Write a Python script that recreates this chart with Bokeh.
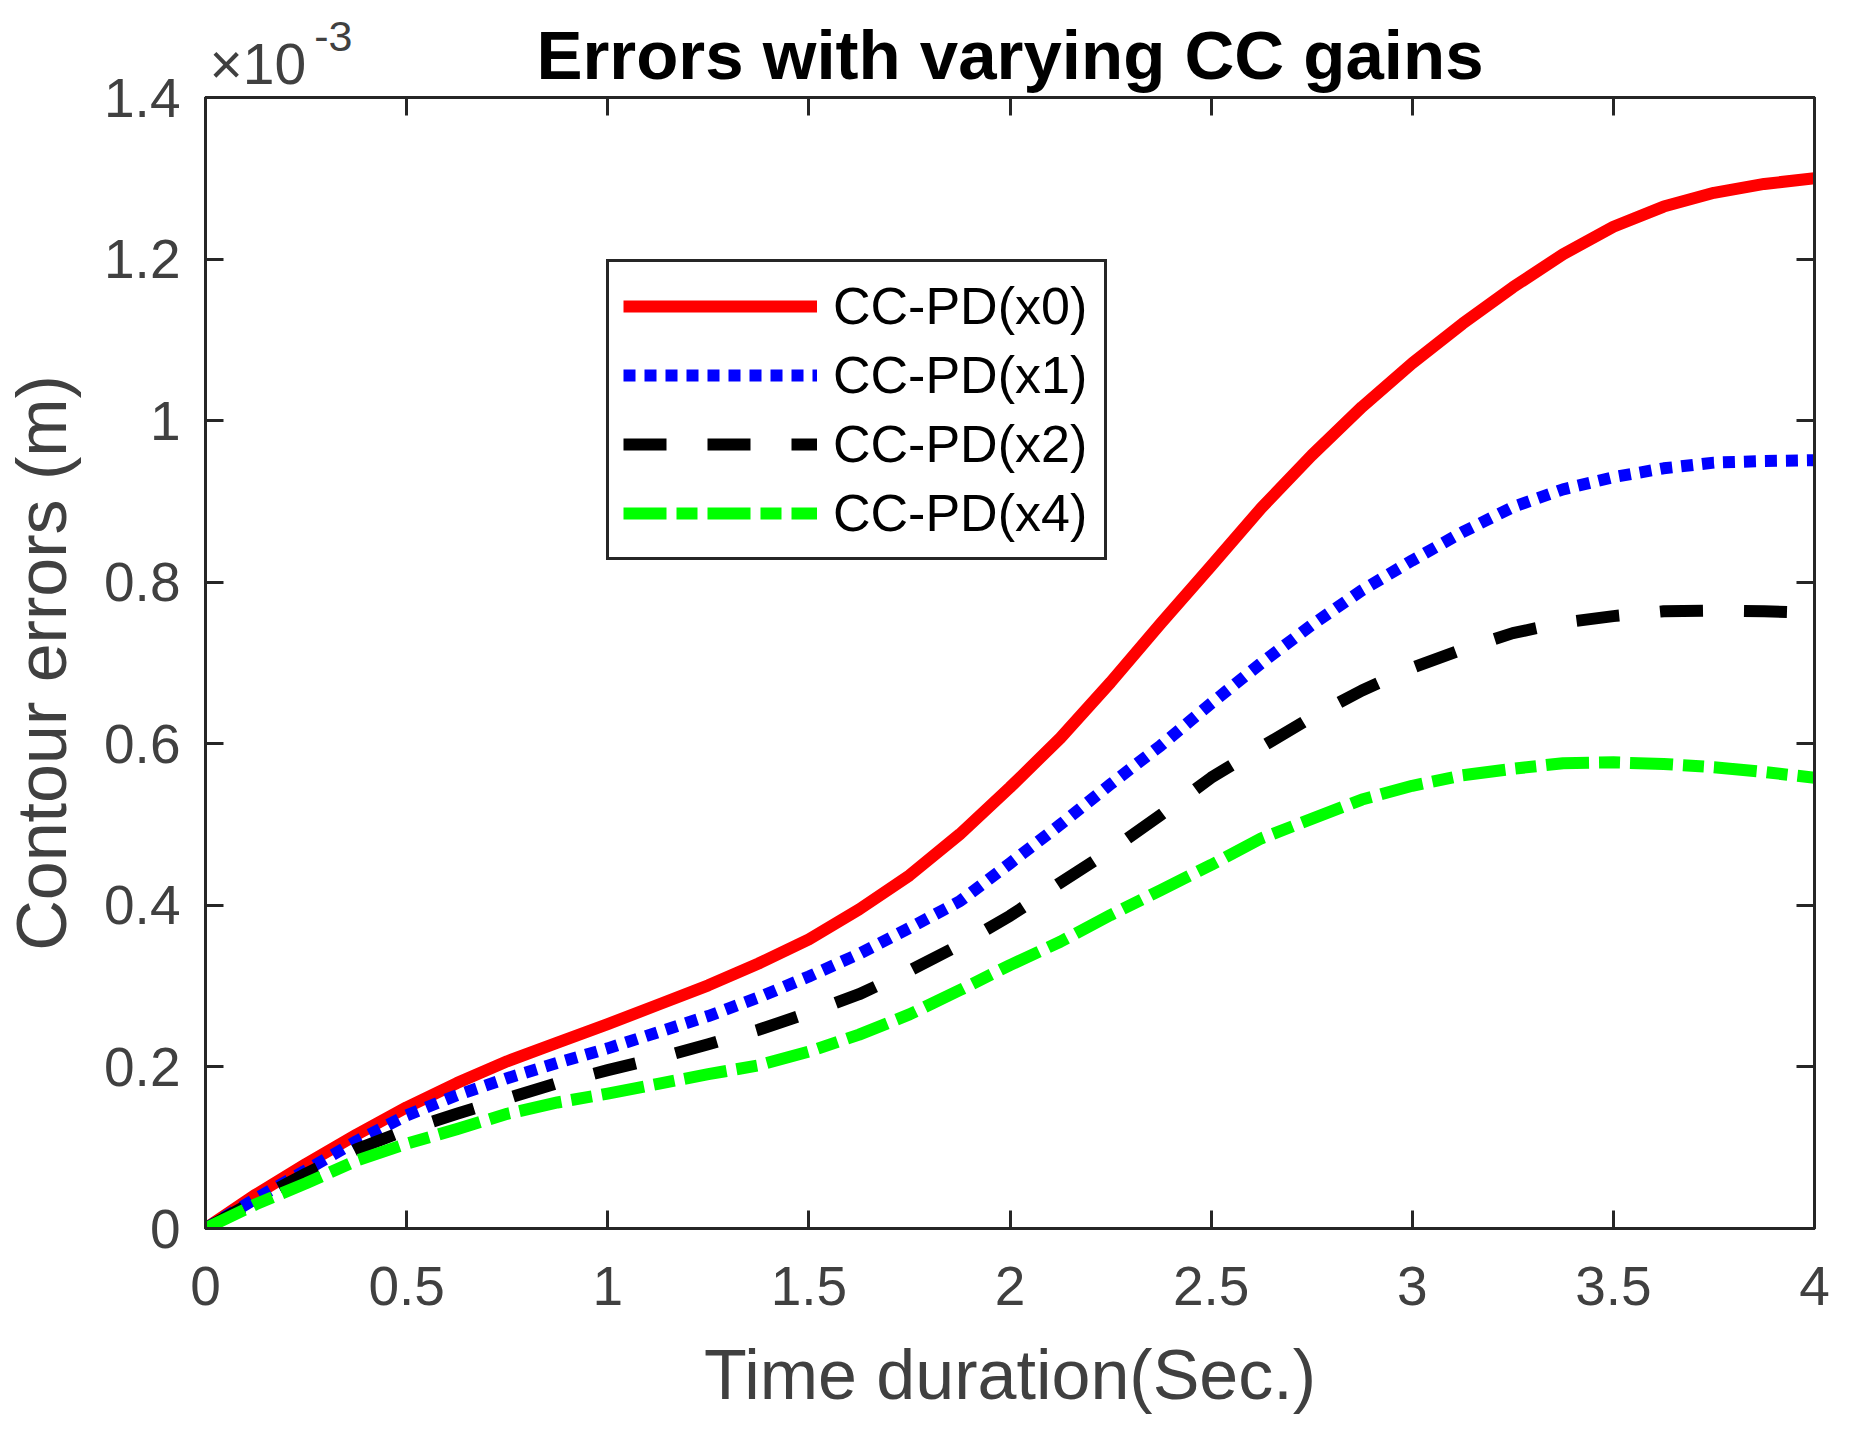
from bokeh.plotting import figure
from bokeh.models import LinearAxis, FixedTicker, Legend, LegendItem, Range1d
from bokeh.embed import file_html
from bokeh.resources import INLINE

# ---- data (contour errors in units of 1e-3 m) ----
t = [0, 0.125, 0.25, 0.375, 0.5, 0.625, 0.75, 0.875, 1.0, 1.125, 1.25, 1.375, 1.5, 1.625, 1.75, 1.875,
     2.0, 2.125, 2.25, 2.375, 2.5, 2.625, 2.75, 2.875, 3.0, 3.125, 3.25, 3.375, 3.5, 3.625, 3.75, 3.875, 4.0]
err_x0 = [0, 0.042, 0.080, 0.116, 0.150, 0.180, 0.207, 0.230, 0.253, 0.277, 0.301, 0.328, 0.358, 0.395, 0.437, 0.488,
          0.546, 0.607, 0.676, 0.749, 0.820, 0.892, 0.957, 1.017, 1.071, 1.120, 1.165, 1.206, 1.240, 1.265, 1.282, 1.293, 1.300]
err_x1 = [0, 0.037, 0.072, 0.108, 0.140, 0.165, 0.186, 0.205, 0.223, 0.243, 0.263, 0.286, 0.312, 0.340, 0.372, 0.405,
          0.452, 0.500, 0.550, 0.598, 0.650, 0.700, 0.747, 0.790, 0.827, 0.862, 0.893, 0.915, 0.930, 0.941, 0.948, 0.950, 0.951]
err_x2 = [0, 0.035, 0.068, 0.098, 0.122, 0.142, 0.161, 0.180, 0.196, 0.211, 0.228, 0.246, 0.267, 0.290, 0.319, 0.351,
          0.387, 0.428, 0.468, 0.512, 0.558, 0.596, 0.633, 0.666, 0.694, 0.717, 0.737, 0.750, 0.758, 0.764, 0.765, 0.764, 0.762]
err_x4 = [0, 0.030, 0.056, 0.084, 0.105, 0.123, 0.142, 0.156, 0.167, 0.179, 0.191, 0.202, 0.219, 0.240, 0.265, 0.295,
          0.326, 0.355, 0.388, 0.419, 0.450, 0.483, 0.507, 0.531, 0.548, 0.561, 0.569, 0.576, 0.577, 0.575, 0.571, 0.565, 0.558]

title_text = "Errors with varying CC gains"
exp_base = "\u00d710"
exp_power = "-3"
labels = ["CC-PD(x0)", "CC-PD(x1)", "CC-PD(x2)", "CC-PD(x4)"]
colors = ["#FF0000", "#0000FF", "#000000", "#00FF00"]
dashes = ["solid", "12 9", "43 41", "43 10 21 10"]

x_ticks = [0, 0.5, 1, 1.5, 2, 2.5, 3, 3.5, 4]
x_tick_labels = ["0", "0.5", "1", "1.5", "2", "2.5", "3", "3.5", "4"]
y_ticks = [0, 0.2, 0.4, 0.6, 0.8, 1.0, 1.2, 1.4]
y_tick_labels = ["0", "0.2", "0.4", "0.6", "0.8", "1", "1.2", "1.4"]

FONT = "Liberation Sans"
AX = "#262626"
TXT = "#404040"

p = figure(frame_width=1609, frame_height=1131,
           min_border_left=198, min_border_top=97, min_border_right=32, min_border_bottom=180,
           x_range=Range1d(0, 4), y_range=Range1d(0, 1.4),
           output_backend="svg", toolbar_location=None)
p.background_fill_color = "white"
p.border_fill_color = "white"
p.xgrid.visible = False
p.ygrid.visible = False
p.outline_line_color = AX
p.outline_line_width = 3

def style_axis(ax, show_labels):
    ax.axis_line_color = AX
    ax.axis_line_width = 3
    ax.major_tick_line_color = AX
    ax.major_tick_line_width = 3
    ax.major_tick_in = 18
    ax.major_tick_out = 0
    ax.minor_tick_line_color = None
    ax.major_label_text_font = FONT
    ax.major_label_text_font_size = "55px"
    ax.major_label_text_color = TXT
    ax.axis_label_text_font = FONT
    ax.axis_label_text_font_size = "70px"
    ax.axis_label_text_font_style = "normal"
    ax.axis_label_text_color = TXT
    if not show_labels:
        ax.major_label_text_font_size = "1px"
        ax.major_label_standoff = 0

def text_only_axis(ax):
    ax.axis_line_color = None
    ax.major_tick_line_color = None
    ax.minor_tick_line_color = None
    ax.major_tick_in = 0
    ax.major_tick_out = 0
    ax.minor_tick_in = 0
    ax.minor_tick_out = 0
    ax.major_label_text_font = FONT
    ax.major_label_text_color = TXT

xb = p.xaxis[0]
yl = p.yaxis[0]
xb.ticker = FixedTicker(ticks=x_ticks)
yl.ticker = FixedTicker(ticks=y_ticks)
xb.major_label_overrides = {v: s for v, s in zip(x_ticks, x_tick_labels)}
yl.major_label_overrides = {v: s for v, s in zip(y_ticks, y_tick_labels)}
style_axis(xb, True)
style_axis(yl, True)
xb.axis_label = "Time duration(Sec.)"
yl.axis_label = "Contour errors (m)"
xb.major_label_standoff = 38
xb.axis_label_standoff = 28
yl.major_label_standoff = 25
yl.axis_label_standoff = 20

# top edge: ticks only
xa = LinearAxis(ticker=FixedTicker(ticks=x_ticks))
style_axis(xa, False)
xa.major_label_overrides = {v: "" for v in x_ticks}
p.add_layout(xa, "above")

# exponent power "-3" (superscript)
POW_X = 0.318
xpow = LinearAxis(ticker=FixedTicker(ticks=[POW_X]))
text_only_axis(xpow)
xpow.major_label_overrides = {POW_X: exp_power}
xpow.major_label_text_font_size = "43px"
xpow.major_label_standoff = 47
p.add_layout(xpow, "above")

# exponent base "x10" and the chart title on the same row
BASE_X = 0.130
xexp = LinearAxis(ticker=FixedTicker(ticks=[BASE_X]))
text_only_axis(xexp)
xexp.major_label_overrides = {BASE_X: exp_base}
xexp.major_label_text_font_size = "57px"
xexp.major_label_standoff = -77
xexp.axis_label = title_text
xexp.axis_label_text_font = FONT
xexp.axis_label_text_font_size = "69px"
xexp.axis_label_text_font_style = "bold"
xexp.axis_label_text_color = "#000000"
xexp.axis_label_standoff = -65
p.add_layout(xexp, "above")

yr = LinearAxis(ticker=FixedTicker(ticks=y_ticks))
style_axis(yr, False)
yr.major_label_overrides = {v: "" for v in y_ticks}
p.add_layout(yr, "right")

series = [err_x0, err_x1, err_x2, err_x4]
items = []
for lab, col, dash, ys in zip(labels, colors, dashes, series):
    r = p.line(t, ys, line_color=col, line_width=12, line_dash=dash, line_cap="butt", line_join="round")
    items.append(LegendItem(label=lab, renderers=[r]))

legend = Legend(items=items, location=(401, 668), orientation="vertical")
legend.border_line_color = AX
legend.border_line_width = 3
legend.border_line_alpha = 1
legend.background_fill_color = "white"
legend.background_fill_alpha = 1
legend.label_text_font = FONT
legend.label_text_font_size = "52px"
legend.label_text_color = "#000000"
legend.glyph_width = 194
legend.glyph_height = 60
legend.label_height = 60
legend.label_width = 257
legend.label_standoff = 16
legend.padding = 14
legend.spacing = 9
legend.margin = 0
p.add_layout(legend, "center")

open("out.html", "w").write(file_html(p, INLINE))
